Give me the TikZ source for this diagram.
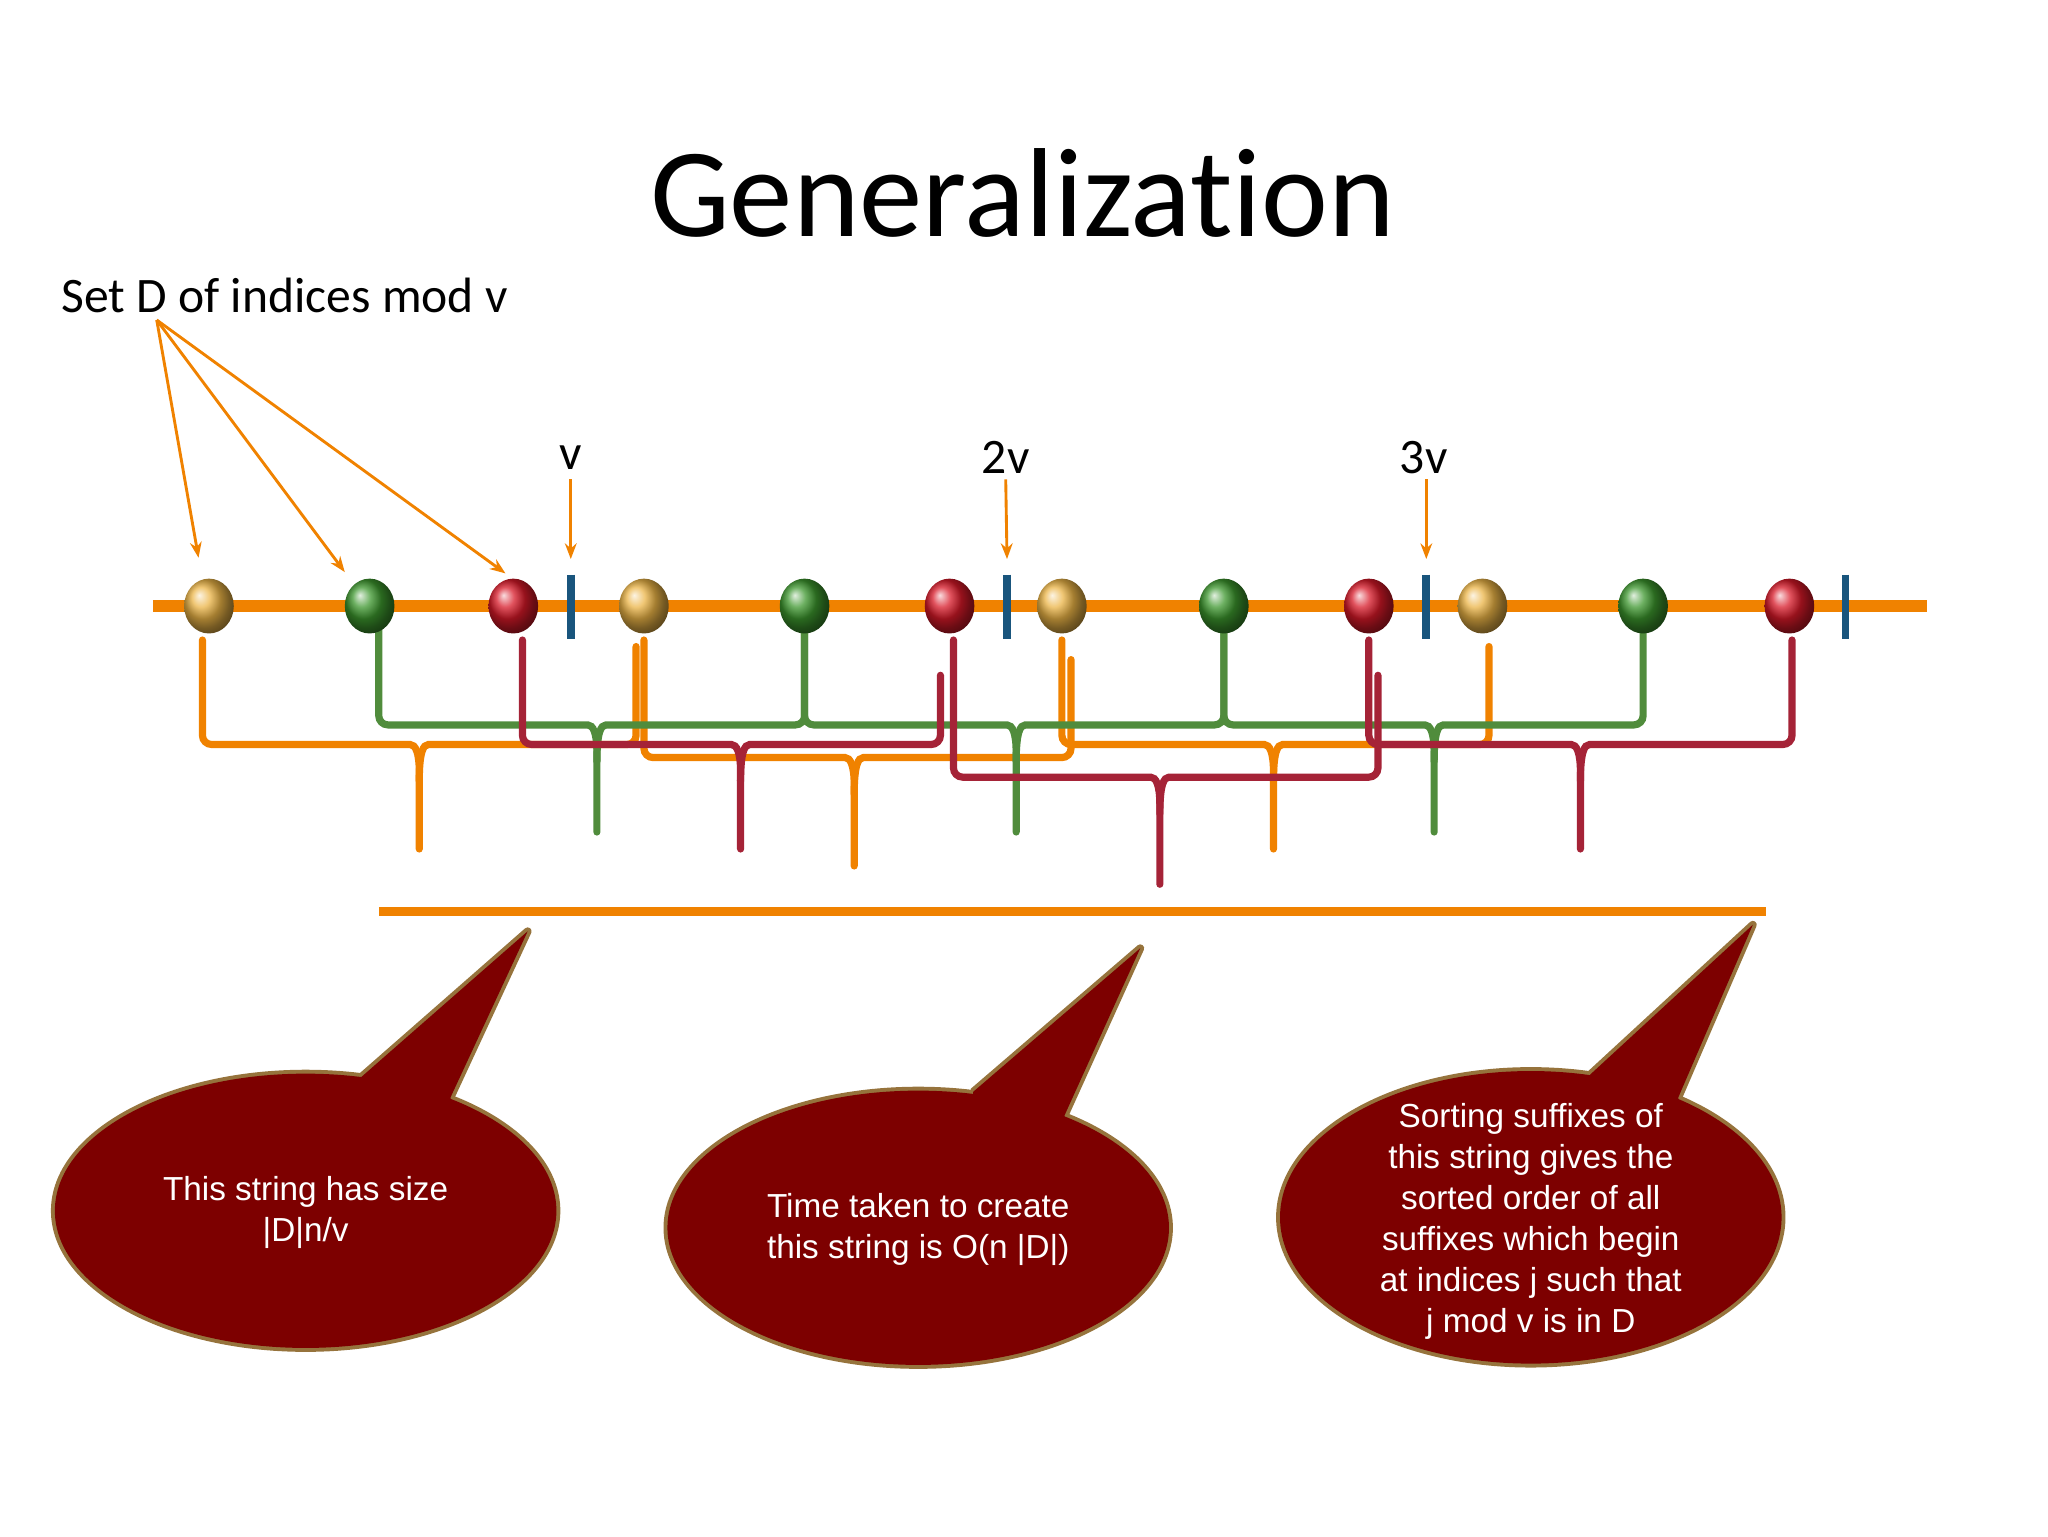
\documentclass[tikz,border=0pt]{standalone}
\usepackage{fontspec}
\setmainfont{Carlito}
\newfontfamily\arialf{Liberation Sans}
\usetikzlibrary{arrows.meta}
\definecolor{lineor}{RGB}{240,130,0}
\definecolor{ballor}{RGB}{235,180,70}
\definecolor{ballgr}{RGB}{60,150,45}
\definecolor{ballrd}{RGB}{215,25,40}
\definecolor{brgr}{RGB}{80,140,60}
\definecolor{brrd}{RGB}{165,35,55}
\definecolor{tickb}{RGB}{25,85,125}
\definecolor{calfill}{RGB}{125,0,0}
\definecolor{calbord}{RGB}{150,115,60}
\tikzset{
  arr/.style={lineor,line width=2.2pt,-{Stealth[length=12pt,width=9pt]}},
  tick/.style={tickb,line width=6pt},
  br/.style={line width=5.5pt,line cap=round,rounded corners=7pt},
  lbl/.style={font=\fontsize{38}{44}\selectfont,inner sep=0pt},
  caltext/.style={font=\arialf\fontsize{25.5}{31.5}\selectfont,text=white,align=center},
}
\newcommand{\ball}[3]{\shade[ball color=#3] (#2,464) ellipse (19pt and 21pt); \coordinate (#1) at (#2,444);}
% color, xL, yTL, xR, yTR, level, xc, depth
\newcommand{\mybrace}[8]{%
  \draw[br,#1] (#2,#3) |- (#7-14,#6) .. controls (#7-3,#6) and (#7,#6+6) .. (#7,#6+28) -- (#7,#8);
  \draw[br,#1] (#4,#5) |- (#7+14,#6) .. controls (#7+3,#6) and (#7,#6+6) .. (#7,#6+28);}
\newcommand{\callout}[9]{% cx cy rx ry b1x b1y b2x b2y tip
  \draw[calbord,line width=6pt,line join=round] (#1,#2) ellipse (#3pt and #4pt);
  \draw[calbord,line width=6pt,line join=round] (#5,#6) -- #9 -- (#7,#8);
  \fill[calfill] (#1,#2) ellipse (#3pt and #4pt);
  \fill[calfill] (#5,#6+10) -- (#5,#6) -- #9 -- (#7,#8) -- (#7,#8+10) -- cycle;}
\begin{document}
\begin{tikzpicture}[x=1pt,y=-1pt]
\useasboundingbox (0,0) rectangle (1568,1176);
\node[font=\fontsize{97}{105}\selectfont] (title) at (783,148) {Generalizat\kern0pt ion};
\node[lbl,anchor=west] (setd) at (47,226) {Set D of indices mod v};
% braces (behind)
\mybrace{lineor}{155}{490}{487}{495}{570}{321}{650}
\mybrace{lineor}{493}{490}{820}{505}{580}{654}{663}
\mybrace{lineor}{813}{490}{1140}{495}{570}{975}{650}
\mybrace{brgr}{290}{480}{616}{480}{555}{457}{637}
\mybrace{brgr}{616}{480}{937}{480}{555}{778}{637}
\mybrace{brgr}{937}{480}{1258}{480}{555}{1098}{637}
\mybrace{brrd}{400}{490}{720}{517}{570}{567}{650}
\mybrace{brrd}{730}{490}{1055}{517}{595}{888}{677}
\mybrace{brrd}{1048}{490}{1372}{490}{570}{1210}{650}
% axis
\draw[lineor,line width=9pt] (117,464) -- (1475,464);
\ball{o1}{160}{ballor}\ball{g1}{283}{ballgr}\ball{r1}{393}{ballrd}
\ball{o2}{493}{ballor}\ball{g2}{616}{ballgr}\ball{r2}{727}{ballrd}
\ball{o3}{813}{ballor}\ball{g3}{937}{ballgr}\ball{r3}{1048}{ballrd}
\ball{o4}{1135}{ballor}\ball{g4}{1258}{ballgr}\ball{r4}{1370}{ballrd}
\foreach \x/\n in {437/t1,771/t2,1092/t3,1413/t4}{
  \draw[tick] (\x,440) -- (\x,489); \coordinate (\n) at (\x,428);}
% index labels
\node[lbl] (lv) at (437,350) {v};
\node[lbl] (l2v) at (770,350) {2v};
\node[lbl] (l3v) at (1090,350) {3v};
\draw[arr] (437,367) -- (t1);
\draw[arr] (770,367) -- (t2);
\draw[arr] (1092,367) -- (t3);
\coordinate (sd) at (120,245);
\draw[arr] (sd) -- (152,427);
\draw[arr] (sd) -- (264,438);
\draw[arr] (sd) -- (387,439);
% bottom string
\draw[lineor,line width=7pt] (290,698) -- (1352,698);
% callouts
\callout{234}{927}{192}{105}{275}{826}{345}{840}{(404,713)}
\callout{703}{940}{192}{105}{745}{836}{815}{854}{(873,726)}
\callout{1172}{932}{192}{112}{1215}{825}{1285}{840}{(1342,708)}
\node[caltext] (c1) at (234,928) {This string has size\\|D|n/v};
\node[caltext] (c2) at (703,941) {Time taken to create\\this string is O(n |D|)};
\node[caltext] (c3) at (1172,935) {Sorting suffixes of\\this string gives the\\sorted order of all\\suffixes which begin\\at indices j such that\\j mod v is in D};
\end{tikzpicture}
\end{document}
